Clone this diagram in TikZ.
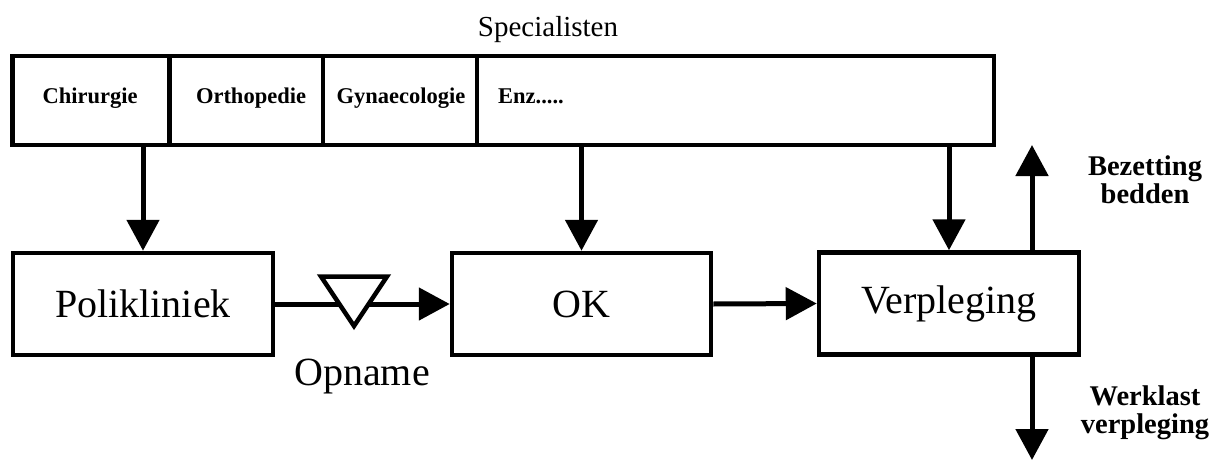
\documentclass[tikz,border=0pt]{standalone}
\usepackage{fontspec}
\setmainfont{Liberation Serif}
\usetikzlibrary{arrows.meta}
\begin{document}
\begin{tikzpicture}[x=1pt,y=-1pt,
  thick line/.style={line width=4.5pt},
  box/.style={draw,thick line,minimum width=260pt,minimum height=102pt,inner sep=0pt,
              font=\fontsize{40}{44}\selectfont},
  cell/.style={draw,thick line,minimum height=89pt,inner sep=0pt},
  flow/.style={line width=5pt,-{Triangle[length=31pt,width=32pt]}},
  celltext/.style={anchor=base,inner sep=0pt,font=\bfseries\fontsize{22.5}{26}\selectfont},
  sidetext/.style={align=center,inner sep=0pt,font=\bfseries\fontsize{28.5}{28}\selectfont}]
\useasboundingbox (0,0) rectangle (1222,460);

% heading and the row of specialisms
\node[anchor=base,inner sep=0pt,font=\fontsize{29}{32}\selectfont] (spectitle) at (548,37) {Specialisten};
\node[cell,minimum width=157pt] (c1) at (91,100.5) {};
\node[cell,minimum width=154pt] (c2) at (246,100.5) {};
\node[cell,minimum width=154pt] (c3) at (400,100.5) {};
\node[cell,minimum width=517pt] (c4) at (735.5,100.5) {};
\node[celltext] (t1) at (90,103) {Chirurgie};
\node[celltext] (t2) at (251,103) {Orthopedie};
\node[celltext] (t3) at (401,103) {Gynaecologie};
\node[celltext,anchor=base west] (t4) at (498,103) {Enz.....};

% main process boxes
\node[box] (poli) at (143,304) {Polikliniek};
\node[box,minimum width=259pt] (ok) at (581.5,304) {OK};
\node[box] (verp) at (949,303.5) {Verpleging};

% specialists feeding the process
\draw[flow] (poli.north |- c1.south) -- (poli.north);
\draw[flow] (ok.north |- c4.south) -- (ok.north);
\draw[flow] (verp.north |- c4.south) -- (verp.north);

% patient flow with the admission buffer
\draw[flow] (poli.east) -- (ok.west);
\draw[flow] (ok.east) -- (verp.west);
\coordinate (adm) at (354,303);
\draw[thick line,fill=white,line join=miter,shift={(adm)}] (-33,-26.5) -- (33,-26.5) -- (0,23) -- cycle;
\node[anchor=base,inner sep=0pt,font=\fontsize{40}{44}\selectfont] (admlabel) at (362,385) {Opname};

% outputs of the ward
\coordinate (bedtop) at (1032,145);
\coordinate (workend) at (1032,460);
\draw[flow] (verp.north -| bedtop) -- (bedtop);
\draw[flow] (verp.south -| workend) -- (workend);
\node[sidetext] (beds) at (1145,180) {Bezetting\\bedden};
\node[sidetext] (work) at (1145,413) {Werklast\\verpleging};
\end{tikzpicture}
\end{document}
